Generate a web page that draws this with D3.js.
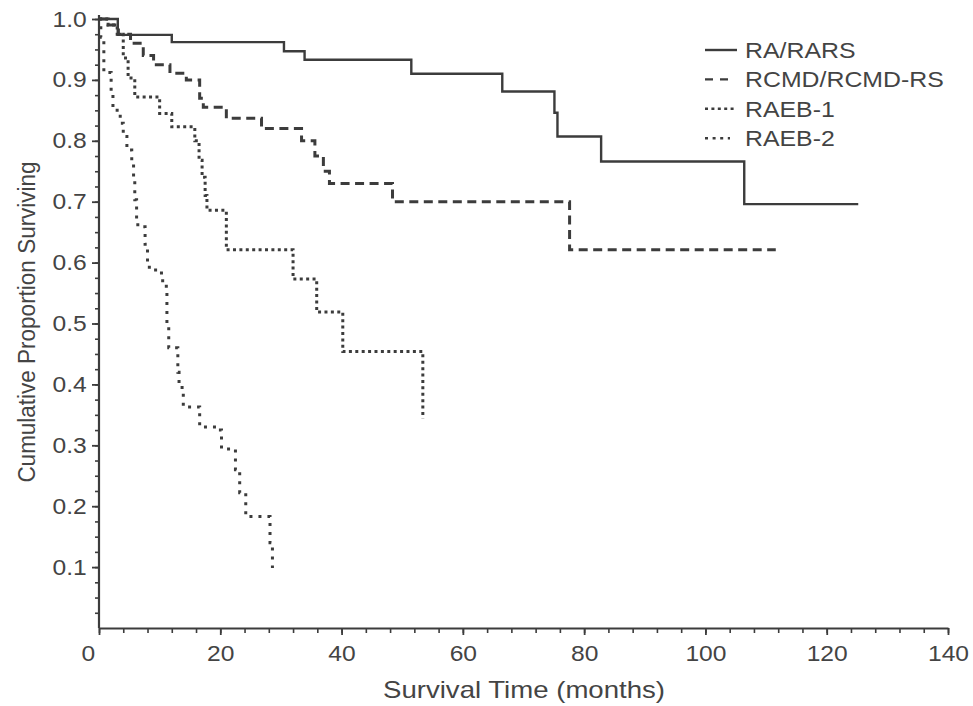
<!DOCTYPE html>
<html>
<head>
<meta charset="utf-8">
<script src="https://cdn.jsdelivr.net/npm/d3@7"></script>
<style>
  body { margin: 0; background: #fff; }
  text { font-family: "Liberation Sans", Arial, sans-serif; fill: #444; }
</style>
</head>
<body>
<div id="chart"></div>
<script>
// Kaplan-Meier curves (months, proportion surviving)
const raTime = [0, 3.1, 12, 30.5, 33.9, 51.5, 66.5, 75.1, 75.6, 82.8, 106.4, 125.2];
const raSurv = [1.0, 0.974, 0.962, 0.947, 0.933, 0.910, 0.881, 0.846, 0.807, 0.766, 0.696, 0.696];

const rcmdTime = [0, 1.5, 3.2, 5.2, 7.3, 9, 11.7, 14.4, 16.6, 17.2, 21, 26.8, 33.4, 35.6, 37, 38, 48.4, 77.6, 111.6];
const rcmdSurv = [1.0, 0.99, 0.975, 0.96, 0.94, 0.925, 0.911, 0.90, 0.87, 0.855, 0.837, 0.82, 0.80, 0.775, 0.75, 0.73, 0.70, 0.621, 0.621];

const raeb1Time = [0, 1.5, 3, 4, 4.8, 5.9, 10, 12, 15.8, 16.5, 17, 17.5, 17.8, 21, 32, 35.9, 40.2, 53.4];
const raeb1Surv = [1.0, 0.99, 0.975, 0.936, 0.903, 0.872, 0.845, 0.823, 0.80, 0.768, 0.74, 0.71, 0.686, 0.621, 0.573, 0.519, 0.454, 0.344];

const raeb2Time = [0, 0.3, 0.8, 2.0, 2.3, 3.5, 4.0, 4.6, 5.4, 5.7, 5.9, 6.2, 6.4, 7.6, 8.0, 8.3, 10.3, 10.5, 11.1, 11.2, 11.5, 13.0, 13.2, 13.7, 13.9, 16.6, 19.4, 20.2, 22.5, 23.2, 24.2, 28.2, 28.6];
const raeb2Surv = [1.0, 0.97, 0.912, 0.878, 0.85, 0.829, 0.807, 0.785, 0.768, 0.736, 0.703, 0.67, 0.659, 0.63, 0.60, 0.588, 0.575, 0.566, 0.555, 0.50, 0.46, 0.42, 0.40, 0.39, 0.363, 0.33, 0.325, 0.294, 0.26, 0.222, 0.183, 0.14, 0.0985];

const seriesNames = ["RA/RARS", "RCMD/RCMD-RS", "RAEB-1", "RAEB-2"];
const seriesDash = ["none", "9,5.5", "3,3.4", "3,6"];
const legendDash = ["none", "8,7", "3,3.4", "3,4.6"];
const legendLen = [32, 23, 32, 25];

const xTicks = [0, 20, 40, 60, 80, 100, 120, 140];
const yTicks = [0.1, 0.2, 0.3, 0.4, 0.5, 0.6, 0.7, 0.8, 0.9, 1.0];

const width = 973, height = 706;
const ink = "#3c3c3c";
const wide = "scale(1.12,1)"; // the original lettering is a little wider than Liberation Sans

const svg = d3.select("#chart").append("svg")
  .attr("width", width)
  .attr("height", height);

const x = d3.scaleLinear().domain([0, 140]).range([99, 948]);
const y = d3.scaleLinear().domain([0, 1]).range([628, 19]);

// minor ticks
svg.append("g")
  .attr("transform", `translate(0,${y(0)})`)
  .call(d3.axisBottom(x).tickValues(d3.range(0, 141, 4)).tickSize(5).tickFormat(""))
  .call(g => g.select(".domain").remove())
  .call(g => g.selectAll("line").attr("stroke", ink).attr("stroke-width", 1.6));

svg.append("g")
  .attr("transform", `translate(${x(0)},0)`)
  .call(d3.axisLeft(y).tickValues(d3.range(0.025, 1.001, 0.025)).tickSize(4).tickFormat(""))
  .call(g => g.select(".domain").remove())
  .call(g => g.selectAll("line").attr("stroke", ink).attr("stroke-width", 1.6));

// major ticks + labels
const xAxis = svg.append("g")
  .attr("transform", `translate(0,${y(0)})`)
  .call(d3.axisBottom(x).tickValues(xTicks).tickSize(7).tickSizeOuter(0).tickPadding(10))
  .call(g => g.select(".domain").attr("stroke", ink).attr("stroke-width", 2.2))
  .call(g => g.selectAll("line").attr("stroke", ink).attr("stroke-width", 1.8))
  .call(g => g.selectAll("text").attr("font-size", 22).attr("fill", "#444").attr("transform", wide));
xAxis.selectAll(".tick text").filter(d => d === 0).attr("dx", -10);

svg.append("g")
  .attr("transform", `translate(${x(0)},0)`)
  .call(d3.axisLeft(y).tickValues(yTicks).tickSize(7).tickSizeOuter(0).tickPadding(4).tickFormat(d3.format(".1f")))
  .call(g => g.select(".domain").attr("stroke", ink).attr("stroke-width", 2.2).attr("d", `M0,${y(0)}V${y(1) - 4}`))
  .call(g => g.selectAll("line").attr("stroke", ink).attr("stroke-width", 1.8))
  .call(g => g.selectAll("text").attr("font-size", 22).attr("fill", "#444").attr("transform", wide));

// axis titles
svg.append("text")
  .attr("transform", "translate(524,698) scale(1.2,1)")
  .attr("text-anchor", "middle")
  .attr("font-size", 23)
  .text("Survival Time (months)");

svg.append("text")
  .attr("transform", "translate(35,322) rotate(-90) scale(1,1.1)")
  .attr("text-anchor", "middle")
  .attr("font-size", 22.5)
  .text("Cumulative Proportion Surviving");

// curves
const line = d3.line()
  .x(d => x(d[0]))
  .y(d => y(d[1]))
  .curve(d3.curveStepAfter);

const series = [
  d3.zip(raTime, raSurv),
  d3.zip(rcmdTime, rcmdSurv),
  d3.zip(raeb1Time, raeb1Surv),
  d3.zip(raeb2Time, raeb2Surv)
];

svg.append("g").selectAll("path")
  .data(series)
  .join("path")
  .attr("d", line)
  .attr("fill", "none")
  .attr("stroke", ink)
  .attr("stroke-width", (d, i) => i === 0 ? 2.4 : 3)
  .attr("stroke-dasharray", (d, i) => seriesDash[i]);

// legend
const legend = svg.append("g").attr("transform", "translate(705,50)");
const item = legend.selectAll("g")
  .data(seriesNames)
  .join("g")
  .attr("transform", (d, i) => `translate(0,${i * 29.4})`);

item.append("line")
  .attr("x1", 0)
  .attr("x2", (d, i) => legendLen[i])
  .attr("stroke", ink)
  .attr("stroke-width", 2.4)
  .attr("stroke-dasharray", (d, i) => legendDash[i]);

item.append("text")
  .attr("transform", "translate(40,0) scale(1.13,1)")
  .attr("dy", "0.35em")
  .attr("font-size", 22)
  .text(d => d);
</script>
</body>
</html>
